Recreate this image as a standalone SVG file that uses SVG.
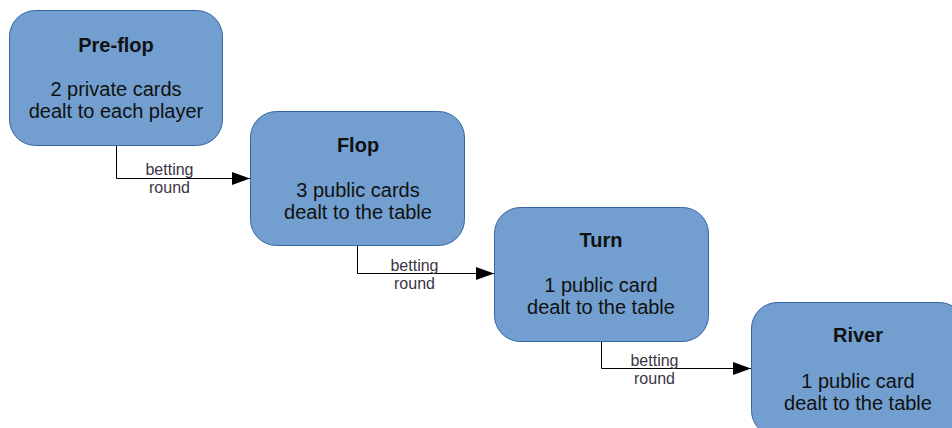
<svg xmlns="http://www.w3.org/2000/svg" width="952" height="428" viewBox="0 0 952 428">
  <style>
    .box { fill: #729fcf; stroke: #3465a4; stroke-width: 1; }
    .title { font-family: "Liberation Sans", Arial, sans-serif; font-size: 20px; font-weight: bold; fill: #111; text-anchor: middle; }
    .body { font-family: "Liberation Sans", Arial, sans-serif; font-size: 20px; fill: #111; text-anchor: middle; }
    .edge { fill: none; stroke: #000; stroke-width: 1; }
    .label { font-family: "Liberation Sans", Arial, sans-serif; font-size: 16px; fill: #3d3545; text-anchor: middle; }
  </style>
  <defs>
    <marker id="arrow" markerUnits="userSpaceOnUse" markerWidth="19" markerHeight="14" refX="18" refY="6.5" orient="auto">
      <path d="M0,0 L18,6.5 L0,13 Z" fill="#000"/>
    </marker>
  </defs>
  <rect width="952" height="428" fill="#fff"/>

  <g id="connectors">
    <polyline class="edge" points="116.5,145 116.5,178.5 250,178.5" marker-end="url(#arrow)"/>
    <text class="label" x="169.5" y="175">betting</text>
    <text class="label" x="169.5" y="193">round</text>

    <polyline class="edge" points="357.5,245 357.5,273.5 494,273.5" marker-end="url(#arrow)"/>
    <text class="label" x="414.5" y="271">betting</text>
    <text class="label" x="414.5" y="289">round</text>

    <polyline class="edge" points="601.5,341 601.5,368.5 751,368.5" marker-end="url(#arrow)"/>
    <text class="label" x="654.5" y="366">betting</text>
    <text class="label" x="654.5" y="384">round</text>
  </g>

  <g id="preflop">
    <rect class="box" x="9.5" y="10.5" width="213" height="135" rx="26"/>
    <text class="title" x="116" y="52">Pre-flop</text>
    <text class="body" x="116" y="96">2 private cards</text>
    <text class="body" x="116" y="118">dealt to each player</text>
  </g>

  <g id="flop">
    <rect class="box" x="250.5" y="111.5" width="214" height="134" rx="26"/>
    <text class="title" x="358" y="152">Flop</text>
    <text class="body" x="358" y="197">3 public cards</text>
    <text class="body" x="358" y="219">dealt to the table</text>
  </g>

  <g id="turn">
    <rect class="box" x="494.5" y="207.5" width="214" height="134" rx="26"/>
    <text class="title" x="601" y="247">Turn</text>
    <text class="body" x="601" y="292">1 public card</text>
    <text class="body" x="601" y="314">dealt to the table</text>
  </g>

  <g id="river">
    <rect class="box" x="751.5" y="302.5" width="214" height="134" rx="26"/>
    <text class="title" x="858" y="342">River</text>
    <text class="body" x="858" y="388">1 public card</text>
    <text class="body" x="858" y="410">dealt to the table</text>
  </g>
</svg>
